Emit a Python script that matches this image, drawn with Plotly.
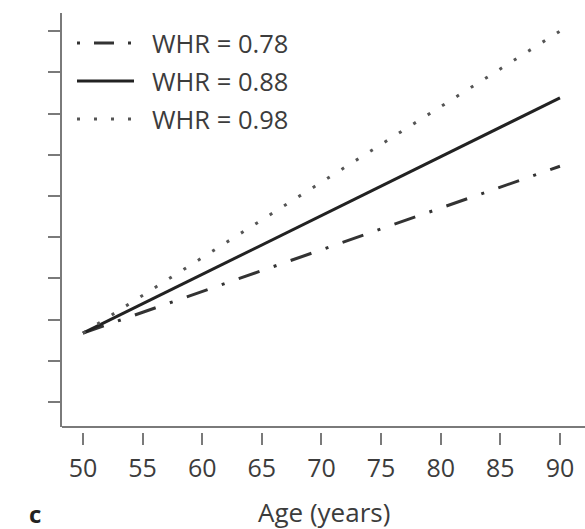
import plotly.graph_objects as go

# Predicted risk (arbitrary units) against age for three waist-hip ratios
ages = [50, 90]
whr_078 = [1.67, 5.72]
whr_088 = [1.67, 7.38]
whr_098 = [1.67, 9.00]

series_names = ["WHR = 0.78", "WHR = 0.88", "WHR = 0.98"]
x_ticks = [50, 55, 60, 65, 70, 75, 80, 85, 90]
y_ticks = [0, 1, 2, 3, 4, 5, 6, 7, 8, 9]

FONT = "Open Sans, Noto Sans, sans-serif"
TEXT = "#3c3c3c"
AXIS = "#7a7a7a"

styles = [
    dict(color="#333333", width=3, dash="22px,15px,3px,15px"),
    dict(color="#222222", width=3, dash="solid"),
    dict(color="#555555", width=3, dash="3px,14px"),
]
# Legend keys start on a dot for the dash-dot style
legend_dash = ["3px,14px,20px,14px", "solid", "3px,14px"]

fig = go.Figure()
for name, vals, st in zip(series_names, [whr_078, whr_088, whr_098], styles):
    fig.add_trace(go.Scatter(x=ages, y=vals, mode="lines", name=name,
                             line=st, showlegend=False))

# Hand-drawn legend in the upper-left corner
L, T, W, H = 62, 13, 523, 419   # plot area in pixels


def px(x):
    return (x - L) / W


def py(y):
    return (T + H - y) / H


legend_rows = [43, 81, 119]
for name, st, dash, yy in zip(series_names, styles, legend_dash, legend_rows):
    fig.add_shape(type="line", xref="paper", yref="paper",
                  x0=px(77), x1=px(134), y0=py(yy), y1=py(yy),
                  line=dict(color=st["color"], width=3, dash=dash))
    fig.add_annotation(xref="paper", yref="paper", x=px(150), y=py(yy),
                       text=name, showarrow=False, xanchor="left",
                       yanchor="middle",
                       font=dict(family=FONT, size=25.5, color=TEXT))

# Horizontal axis line, drawn apart from the detached x ticks
fig.add_shape(type="line", xref="paper", yref="y domain",
              x0=0, x1=1, y0=0, y1=0, line=dict(color=AXIS, width=2))

fig.add_annotation(xref="paper", yref="paper", x=px(324), y=py(512),
                   text="Age (years)", showarrow=False,
                   xanchor="center", yanchor="middle",
                   font=dict(family=FONT, size=26, color=TEXT))
fig.add_annotation(xref="paper", yref="paper", x=px(35), y=py(513),
                   text="<b>c</b>", showarrow=False,
                   xanchor="center", yanchor="middle",
                   font=dict(family=FONT, size=24, color="#222222"))

fig.update_layout(
    width=585, height=529,
    margin=dict(l=L, r=0, t=T, b=529 - T - H),
    paper_bgcolor="white", plot_bgcolor="white",
    font=dict(family=FONT, color=TEXT),
    xaxis=dict(range=[48.24, 92.10], tickvals=x_ticks, anchor="free",
               position=0, showline=False, showgrid=False, zeroline=False,
               ticks="outside", ticklen=12, tickwidth=2, tickcolor=AXIS,
               ticklabelstandoff=2,
               tickfont=dict(family=FONT, size=25, color=TEXT)),
    yaxis=dict(range=[-0.607, 9.44], domain=[5 / H, 1], tickvals=y_ticks,
               showticklabels=False, showline=True, linecolor=AXIS,
               linewidth=2, showgrid=False, zeroline=False,
               ticks="outside", ticklen=12, tickwidth=2, tickcolor=AXIS),
)

fig.write_html("out.html")
